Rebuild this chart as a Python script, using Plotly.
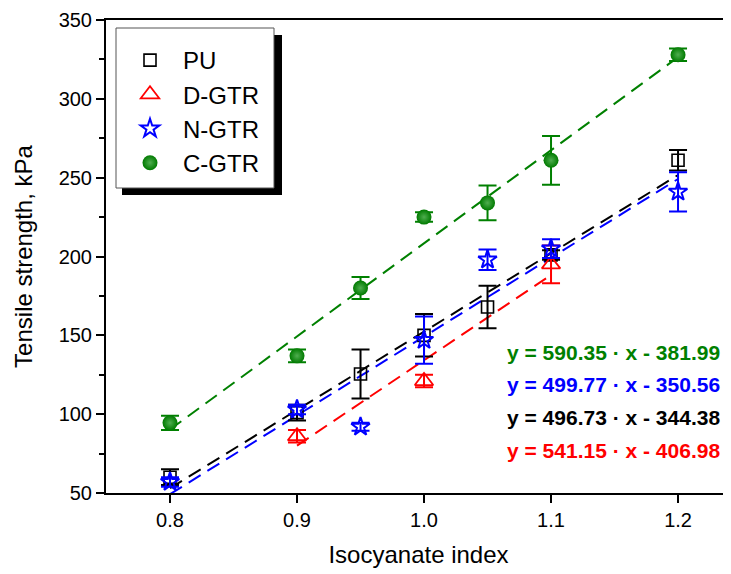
import numpy as np
import plotly.graph_objects as go

# ---------------- data ----------------
series_names = ["PU", "D-GTR", "N-GTR", "C-GTR"]

x_pu = [0.8, 0.9, 0.95, 1.0, 1.05, 1.1, 1.2]
y_pu = [60, 101, 125.5, 150, 168, 201, 261]
e_pu = [5, 5, 15.5, 13.5, 13.5, 3, 6.5]

x_d = [0.9, 1.0, 1.1]
y_d = [86, 121, 195]
e_d = [4, 4, 12]

x_n = [0.8, 0.9, 0.95, 1.0, 1.05, 1.1, 1.2]
y_n = [57, 103, 92, 147, 198, 205, 241]
e_n = [3, 3, 2.5, 15, 6.5, 6, 12.5]

x_c = [0.8, 0.9, 0.95, 1.0, 1.05, 1.1, 1.2]
y_c = [94.5, 137, 180, 225, 234, 261, 328]
e_c = [4.5, 4, 7, 3, 11, 15.5, 4]

# linear fits: y = slope * x + intercept
fit_slope = [496.73, 541.15, 499.77, 590.35]
fit_intercept = [-344.38, -406.98, -350.56, -381.99]
fit_xmin = [0.8, 0.9, 0.8, 0.8]
fit_xmax = [1.2, 1.1, 1.2, 1.2]

eq_text = ["y = 590.35 · x - 381.99",
           "y = 499.77 · x - 350.56",
           "y = 496.73 · x - 344.38",
           "y = 541.15 · x - 406.98"]

x_ticks = [0.8, 0.9, 1.0, 1.1, 1.2]

# ---------------- style ----------------
FONT = "Liberation Sans, Arial, sans-serif"
colors = ["#000000", "#FF0000", "#0000FF", "#008000"]
eq_colors = ["#008000", "#0000FF", "#000000", "#FF0000"]

# the page body adds an 8px margin; compensate
OFF = 8
W, H = 731 - OFF, 574 - OFF
ML, MR, MT = 106 - OFF, 0, 20 - OFF
PLOT_BOTTOM = 493 - OFF
MB = H - PLOT_BOTTOM
PW, PH = W - ML - MR, PLOT_BOTTOM - MT


# helpers: convert reference-image pixel coords to paper coords
def px(xp):
    return (xp - OFF - ML) / PW


def py(yp):
    return (PLOT_BOTTOM - (yp - OFF)) / PH


fig = go.Figure()

# fit lines (drawn first, below markers)
for i in range(4):
    xs = np.array([fit_xmin[i], fit_xmax[i]])
    ys = fit_slope[i] * xs + fit_intercept[i]
    fig.add_trace(go.Scatter(x=xs, y=ys, mode="lines", showlegend=False,
                             hoverinfo="skip",
                             line=dict(color=colors[i], width=2, dash="14px,8px")))

datasets = [(x_pu, y_pu, e_pu), (x_d, y_d, e_d), (x_n, y_n, e_n), (x_c, y_c, e_c)]
markers = [
    dict(symbol="square-open", size=12, color=colors[0], line=dict(width=1.6, color=colors[0])),
    dict(symbol="triangle-up-open", size=16, color=colors[1], line=dict(width=1.8, color=colors[1])),
    dict(symbol="star-open", size=14, color=colors[2], line=dict(width=2, color=colors[2])),
    dict(symbol="circle", size=15, color="#007a00", line=dict(width=0),
         gradient=dict(type="radial", color="#4fae4f")),
]
for i, (xs, ys, es) in enumerate(datasets):
    fig.add_trace(go.Scatter(
        x=xs, y=ys, mode="markers", name=series_names[i],
        marker=markers[i],
        error_y=dict(type="data", array=es, visible=True, color=colors[i],
                     thickness=2, width=9),
    ))

# legend box and shadow
shapes = [
    dict(type="rect", xref="paper", yref="paper",
         x0=px(122), x1=px(282), y0=py(195), y1=py(35),
         fillcolor="black", line=dict(width=0), layer="above"),
    dict(type="rect", xref="paper", yref="paper",
         x0=px(116), x1=px(274), y0=py(188), y1=py(28),
         fillcolor="white", line=dict(width=1, color="#555555"), layer="above"),
]

annotations = []
eq_y = [352, 384, 417, 450]
for t, c, yy in zip(eq_text, eq_colors, eq_y):
    annotations.append(dict(
        text=t, xref="paper", yref="paper", x=px(505), y=py(yy),
        xanchor="left", yanchor="middle", showarrow=False,
        font=dict(family=FONT, size=21, color=c, weight="bold")))

fig.update_layout(
    width=W, height=H,
    margin=dict(l=ML, r=MR, t=MT, b=MB),
    paper_bgcolor="white", plot_bgcolor="white",
    font=dict(family=FONT, color="black"),
    showlegend=True,
    legend=dict(x=px(117), y=py(38), xanchor="left", yanchor="top",
                bgcolor="rgba(0,0,0,0)", borderwidth=0,
                font=dict(family=FONT, size=24, color="black"),
                itemwidth=56, traceorder="normal"),
    shapes=shapes,
    annotations=annotations,
    xaxis=dict(
        range=[0.7496, 1.2417], tickvals=x_ticks, tickformat=".1f",
        showgrid=False, zeroline=False,
        showline=True, linewidth=2, linecolor="black", mirror=True,
        ticks="outside", ticklen=8, tickwidth=2, tickcolor="black",
        tickfont=dict(family=FONT, size=20, color="black"),
        title=dict(text="Isocyanate index", standoff=16,
                   font=dict(family=FONT, size=24, color="black")),
    ),
    yaxis=dict(
        range=[50, 350], dtick=50, tick0=50,
        showgrid=False, zeroline=False,
        showline=True, linewidth=2, linecolor="black", mirror=False,
        ticks="outside", ticklen=8, tickwidth=2, tickcolor="black",
        minor=dict(dtick=25, ticks="outside", ticklen=5, tickwidth=2, tickcolor="black"),
        tickfont=dict(family=FONT, size=20, color="black"),
        title=dict(text="Tensile strength, kPa", standoff=19,
                   font=dict(family=FONT, size=24, color="black")),
    ),
)

fig.write_html("out.html")
